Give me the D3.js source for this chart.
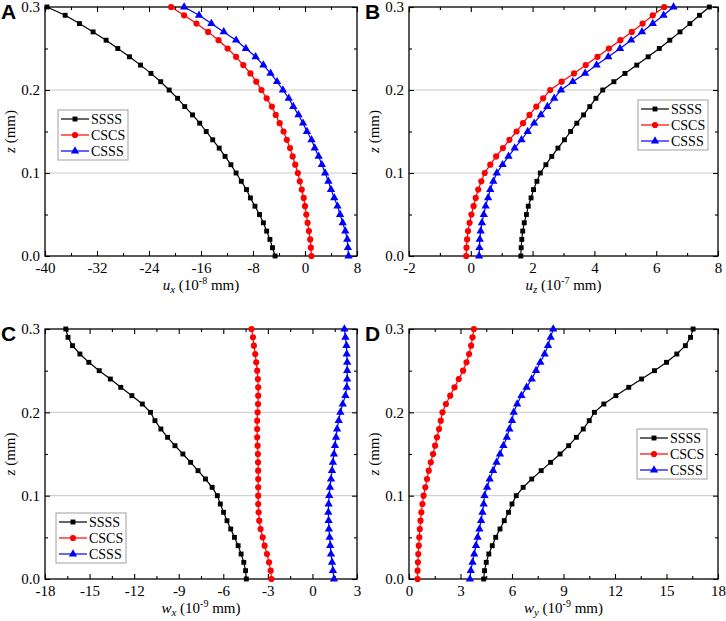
<!DOCTYPE html>
<html>
<head>
<meta charset="utf-8">
<script src="https://cdn.jsdelivr.net/npm/d3@7"></script>
<style>
  body { margin: 0; background: #fff; }
  svg { display: block; }
</style>
</head>
<body>
<div id="chart"></div>
<script>
// sample heights through the plate (mm)
const zValues = [0.00, 0.01, 0.02, 0.03, 0.04, 0.05, 0.06, 0.07, 0.08, 0.09, 0.10,
                 0.11, 0.12, 0.13, 0.14, 0.15, 0.16, 0.17, 0.18, 0.19, 0.20,
                 0.21, 0.22, 0.23, 0.24, 0.25, 0.26, 0.27, 0.28, 0.29, 0.30];
const seriesNames = ["SSSS", "CSCS", "CSSS"];

// A: u_x (10^-8 mm)
const uxSSSS = [-4.6, -5.0, -5.4, -5.9, -6.4, -7.0, -7.7, -8.4, -9.0, -9.8, -10.6,
                -11.4, -12.3, -13.2, -14.2, -15.2, -16.2, -17.3, -18.5, -19.6, -20.9,
                -22.2, -23.7, -25.3, -27.0, -28.8, -30.6, -32.6, -34.7, -36.9, -39.7];
const uxCSCS = [1.0, 0.9, 0.8, 0.6, 0.4, 0.2, 0.0, -0.2, -0.5, -0.8, -1.1,
                -1.5, -1.9, -2.3, -2.8, -3.3, -3.9, -4.5, -5.1, -5.9, -6.7,
                -7.5, -8.4, -9.5, -10.6, -11.9, -13.3, -14.9, -16.7, -18.6, -20.6];
const uxCSSS = [6.7, 6.6, 6.5, 6.2, 5.8, 5.4, 5.0, 4.5, 4.0, 3.6, 3.1,
                2.6, 2.1, 1.5, 1.0, 0.3, -0.3, -1.0, -1.8, -2.5, -3.4,
                -4.3, -5.3, -6.4, -7.6, -9.1, -10.6, -12.5, -14.4, -16.3, -18.6];

// B: u_z (10^-7 mm)
const uzSSSS = [1.62, 1.63, 1.65, 1.68, 1.73, 1.80, 1.86, 1.95, 2.03, 2.14, 2.25,
                2.43, 2.62, 2.82, 3.03, 3.23, 3.43, 3.65, 3.85, 4.05, 4.27,
                4.63, 4.99, 5.37, 5.74, 6.10, 6.44, 6.77, 7.09, 7.40, 7.72];
const uzCSCS = [-0.15, -0.14, -0.12, -0.09, -0.04, 0.02, 0.09, 0.16, 0.24, 0.34, 0.45,
                0.63, 0.82, 1.04, 1.25, 1.48, 1.69, 1.90, 2.12, 2.34, 2.57,
                2.94, 3.34, 3.72, 4.10, 4.47, 4.84, 5.21, 5.56, 5.89, 6.26];
const uzCSSS = [0.27, 0.28, 0.29, 0.32, 0.36, 0.42, 0.48, 0.56, 0.63, 0.73, 0.84,
                1.03, 1.22, 1.42, 1.64, 1.84, 2.05, 2.27, 2.48, 2.70, 2.92,
                3.30, 3.70, 4.07, 4.45, 4.83, 5.19, 5.54, 5.89, 6.24, 6.56];

// C: w_x (10^-9 mm)
const wxSSSS = [-4.45, -4.5, -4.62, -4.8, -5.0, -5.25, -5.5, -5.75, -5.98, -6.2, -6.4,
                -6.75, -7.2, -7.7, -8.2, -8.72, -9.25, -9.75, -10.2, -10.6, -10.9,
                -11.45, -12.15, -12.9, -13.6, -14.35, -15.05, -15.65, -16.15, -16.45, -16.6];
const wxCSCS = [-2.76, -2.81, -2.92, -3.06, -3.22, -3.35, -3.49, -3.58, -3.62, -3.65, -3.65,
                -3.65, -3.65, -3.65, -3.66, -3.67, -3.69, -3.72, -3.72, -3.72, -3.69,
                -3.66, -3.65, -3.65, -3.67, -3.72, -3.78, -3.85, -3.94, -4.0, -4.1];
const wxCSSS = [1.45, 1.38, 1.32, 1.25, 1.2, 1.16, 1.11, 1.09, 1.07, 1.09, 1.13,
                1.18, 1.25, 1.32, 1.38, 1.45, 1.52, 1.59, 1.66, 1.77, 1.88,
                2.04, 2.22, 2.31, 2.34, 2.34, 2.34, 2.31, 2.29, 2.22, 2.15];

// D: w_y (10^-9 mm)
const wySSSS = [4.35, 4.4, 4.5, 4.65, 4.85, 5.05, 5.3, 5.55, 5.8, 6.0, 6.25,
                6.65, 7.15, 7.7, 8.25, 8.8, 9.3, 9.75, 10.15, 10.5, 10.8,
                11.35, 12.05, 12.8, 13.55, 14.3, 15.0, 15.6, 16.1, 16.4, 16.55];
const wyCSCS = [0.5, 0.5, 0.52, 0.54, 0.57, 0.6, 0.63, 0.67, 0.72, 0.78, 0.85,
                0.95, 1.05, 1.15, 1.27, 1.4, 1.52, 1.63, 1.75, 1.85, 1.95,
                2.15, 2.4, 2.65, 2.9, 3.15, 3.35, 3.5, 3.62, 3.7, 3.78];
const wyCSSS = [3.55, 3.6, 3.7, 3.8, 3.9, 4.0, 4.1, 4.2, 4.28, 4.35, 4.4,
                4.55, 4.7, 4.9, 5.1, 5.3, 5.5, 5.7, 5.85, 6.0, 6.1,
                6.3, 6.55, 6.85, 7.15, 7.4, 7.65, 7.9, 8.1, 8.25, 8.4];

// tick values
const zTicks = [0.0, 0.1, 0.2, 0.3];
const zMinor = [0.05, 0.15, 0.25];
const uxTicks = [-40, -32, -24, -16, -8, 0, 8];
const uxMinor = [-36, -28, -20, -12, -4, 4];
const uzTicks = [-2, 0, 2, 4, 6, 8];
const uzMinor = [-1, 1, 3, 5, 7];
const wxTicks = [-18, -15, -12, -9, -6, -3, 0, 3];
const wxMinor = [-16.5, -13.5, -10.5, -7.5, -4.5, -1.5, 1.5];
const wyTicks = [0, 3, 6, 9, 12, 15, 18];
const wyMinor = [1.5, 4.5, 7.5, 10.5, 13.5, 16.5];

const colors = ["#000000", "#ff0000", "#0000ff"];
const symbols = [d3.symbolSquare, d3.symbolCircle, d3.symbolTriangle];
const symbolSizes = [24, 30, 30];
const SERIF = "Liberation Serif";
const SANS = "Liberation Sans";

const panels = [
  { letter: "A", left: 45, right: 357, top: 7, bottom: 256, domain: [-40, 8],
    ticks: uxTicks, minor: uxMinor, data: [uxSSSS, uxCSCS, uxCSSS],
    sym: "u", sub: "x", exp: "-8", legend: [58, 110] },
  { letter: "B", left: 409, right: 718, top: 7, bottom: 256, domain: [-2, 8],
    ticks: uzTicks, minor: uzMinor, data: [uzSSSS, uzCSCS, uzCSSS],
    sym: "u", sub: "z", exp: "-7", legend: [638, 100] },
  { letter: "C", left: 45, right: 357, top: 329, bottom: 579, domain: [-18, 3],
    ticks: wxTicks, minor: wxMinor, data: [wxSSSS, wxCSCS, wxCSSS],
    sym: "w", sub: "x", exp: "-9", legend: [56, 513] },
  { letter: "D", left: 409, right: 718, top: 329, bottom: 579, domain: [0, 18],
    ticks: wyTicks, minor: wyMinor, data: [wySSSS, wyCSCS, wyCSSS],
    sym: "w", sub: "y", exp: "-9", legend: [637, 429] }
];

const svg = d3.select("#chart").append("svg")
    .attr("width", 726)
    .attr("height", 621)
    .attr("font-family", SERIF);

panels.forEach(p => drawPanel(p));

function drawPanel(p) {
    const x = d3.scaleLinear().domain(p.domain).range([p.left, p.right]);
    const y = d3.scaleLinear().domain([0, 0.3]).range([p.bottom, p.top]);
    const g = svg.append("g");

    // horizontal grid lines at the inner major z ticks
    g.selectAll("line.grid")
        .data(zTicks.slice(1, -1))
        .enter()
        .append("line")
        .attr("x1", p.left).attr("x2", p.right)
        .attr("y1", d => y(d)).attr("y2", d => y(d))
        .attr("stroke", "#c8c8c8")
        .attr("stroke-width", 1);

    // axes: ticks pointing inward on all four sides
    const fmtY = d3.format(".1f");
    const axes = [
        [d3.axisBottom(x).tickValues(p.ticks).tickSize(-5).tickFormat(d => d), p.bottom, "x"],
        [d3.axisBottom(x).tickValues(p.minor).tickSize(-3).tickFormat(""), p.bottom, "x"],
        [d3.axisTop(x).tickValues(p.ticks).tickSize(-5).tickFormat(""), p.top, "x"],
        [d3.axisTop(x).tickValues(p.minor).tickSize(-3).tickFormat(""), p.top, "x"],
        [d3.axisLeft(y).tickValues(zTicks).tickSize(-5).tickFormat(fmtY), p.left, "y"],
        [d3.axisLeft(y).tickValues(zMinor).tickSize(-3).tickFormat(""), p.left, "y"],
        [d3.axisRight(y).tickValues(zTicks).tickSize(-5).tickFormat(""), p.right, "y"],
        [d3.axisRight(y).tickValues(zMinor).tickSize(-3).tickFormat(""), p.right, "y"]
    ];
    axes.forEach(([axis, pos, dir]) => {
        const a = g.append("g")
            .attr("transform", dir === "x" ? "translate(0," + pos + ")" : "translate(" + pos + ",0)")
            .call(axis.tickPadding(dir === "x" ? 6 : 5));
        a.attr("font-family", SERIF).attr("font-size", 15);
        a.select(".domain").remove();
        a.selectAll("line").attr("stroke", "#000").attr("stroke-width", 1.1);
        a.selectAll("text")
            .attr("font-family", SERIF)
            .attr("font-size", 15)
            .attr("fill", "#000");
        if (dir === "x") a.selectAll("text").attr("dy", "0.71em");
    });

    // frame
    g.append("rect")
        .attr("x", p.left).attr("y", p.top)
        .attr("width", p.right - p.left).attr("height", p.bottom - p.top)
        .attr("fill", "none")
        .attr("stroke", "#000")
        .attr("stroke-width", 1.3);

    // curves
    p.data.forEach((vals, i) => {
        const pts = vals.map((v, k) => [v, zValues[k]]);
        g.append("path")
            .datum(pts)
            .attr("fill", "none")
            .attr("stroke", colors[i])
            .attr("stroke-width", 1.2)
            .attr("d", d3.line().x(d => x(d[0])).y(d => y(d[1])));
        g.selectAll("path.m" + i)
            .data(pts)
            .enter()
            .append("path")
            .attr("class", "m" + i)
            .attr("transform", d => "translate(" + x(d[0]) + "," + y(d[1]) + ")")
            .attr("d", d3.symbol().type(symbols[i]).size(symbolSizes[i]))
            .attr("fill", colors[i]);
    });

    // legend
    const [lx, ly] = p.legend;
    const lg = g.append("g").attr("transform", "translate(" + lx + "," + ly + ")");
    lg.append("rect")
        .attr("width", 70).attr("height", 50)
        .attr("fill", "#fff")
        .attr("stroke", "#a0a0a0")
        .attr("stroke-width", 1);
    seriesNames.forEach((name, i) => {
        const ry = 9 + i * 16;
        lg.append("line")
            .attr("x1", 3).attr("x2", 31)
            .attr("y1", ry).attr("y2", ry)
            .attr("stroke", colors[i]).attr("stroke-width", 1.2);
        lg.append("path")
            .attr("transform", "translate(17," + ry + ")")
            .attr("d", d3.symbol().type(symbols[i]).size(symbolSizes[i]))
            .attr("fill", colors[i]);
        lg.append("text")
            .attr("x", 33).attr("y", ry + 4.5)
            .attr("font-family", SERIF)
            .attr("font-size", 14)
            .text(name);
    });

    // x axis title
    const xt = g.append("text")
        .attr("x", (p.left + p.right) / 2)
        .attr("y", p.bottom + 34)
        .attr("text-anchor", "middle")
        .attr("font-family", SERIF)
        .attr("font-size", 15);
    xt.append("tspan").attr("font-style", "italic").text(p.sym);
    xt.append("tspan").attr("font-style", "italic").attr("font-size", 11)
        .attr("dy", 3).text(p.sub);
    xt.append("tspan").attr("dy", -3).text(" (10");
    xt.append("tspan").attr("font-size", 10).attr("dy", -6).text(p.exp);
    xt.append("tspan").attr("dy", 6).text(" mm)");

    // y axis title
    const yt = g.append("text")
        .attr("transform", "translate(" + (p.left - 30) + "," + ((p.top + p.bottom) / 2) + ") rotate(-90)")
        .attr("text-anchor", "middle")
        .attr("font-family", SERIF)
        .attr("font-size", 15);
    yt.append("tspan").attr("font-style", "italic").text("z");
    yt.append("tspan").text(" (mm)");

    // panel letter
    g.append("text")
        .attr("x", p.left - 44)
        .attr("y", p.top + 12)
        .attr("font-family", SANS)
        .attr("font-weight", "bold")
        .attr("font-size", 21)
        .text(p.letter);
}
</script>
</body>
</html>
